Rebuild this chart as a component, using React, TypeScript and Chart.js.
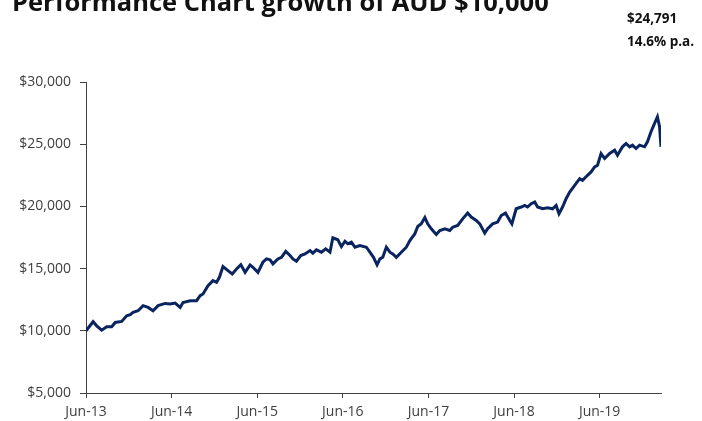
import React, { useEffect, useRef } from "react";
import { Chart, registerables } from "chart.js";

Chart.register(...registerables);

// Months since Jun-2013
const months = [
  0, 1.0, 1.5, 2.2, 2.9, 3.6, 4.1, 5.0, 5.7, 6.2, 6.6, 7.3, 8.0, 8.7, 9.4, 10.1, 11.1, 11.8, 12.5, 13.2,
  13.6, 14.6, 15.5, 16.0, 16.4, 17.1, 17.8, 18.3, 18.7, 19.2, 19.9, 20.5, 21.1, 21.7, 22.3, 23.0, 23.4, 24.1, 24.8, 25.3,
  25.8, 26.2, 26.9, 27.4, 28.0, 28.6, 29.0, 29.5, 30.1, 30.7, 31.4, 31.8, 32.3, 33.0, 33.6, 34.2, 34.6, 35.3, 35.8, 36.3,
  36.7, 37.2, 37.7, 38.4, 39.3, 39.8, 40.3, 40.8, 41.2, 41.6, 42.1, 42.6, 43.0, 43.5, 44.2, 44.9, 45.4, 46.1, 46.5, 47.0,
  47.5, 47.9, 48.4, 49.1, 49.6, 50.3, 51.0, 51.4, 52.1, 52.8, 53.5, 54.0, 54.7, 55.2, 55.9, 56.3, 57.0, 57.7, 58.2, 58.8,
  59.4, 59.7, 60.3, 61.0, 61.5, 61.9, 62.4, 62.9, 63.3, 64.0, 64.7, 65.4, 65.9, 66.3, 66.8, 67.3, 67.8, 68.5, 69.2, 69.6,
  70.3, 70.8, 71.3, 71.7, 72.2, 72.7, 73.4, 74.1, 74.5, 75.2, 75.7, 76.2, 76.6, 77.1, 77.6, 78.3, 78.7, 79.2, 79.7, 80.1,
  80.4, 80.6,
];

// Portfolio value (AUD)
const values = [
  10000, 10730, 10400, 10050, 10320, 10320, 10670, 10750, 11210, 11290, 11480, 11610, 12020, 11880, 11610, 12020, 12200, 12150, 12230, 11880,
  12280, 12420, 12420, 12820, 12960, 13630, 14030, 13900, 14300, 15160, 14840, 14570, 14970, 15320, 14700, 15300, 15110, 14700, 15510, 15780,
  15700, 15380, 15780, 15910, 16390, 16050, 15780, 15590, 16050, 16180, 16450, 16240, 16510, 16320, 16590, 16320, 17480, 17320, 16770, 17200,
  16990, 17120, 16720, 16860, 16720, 16320, 15910, 15300, 15780, 15910, 16720, 16320, 16180, 15910, 16320, 16720, 17260, 17800, 18390, 18600,
  19100, 18600, 18200, 17740, 18060, 18200, 18060, 18330, 18470, 19000, 19460, 19140, 18870, 18600, 17850, 18200, 18600, 18740, 19270, 19460,
  18870, 18600, 19810, 19950, 20080, 19950, 20220, 20350, 19950, 19810, 19890, 19810, 20080, 19410, 19950, 20620, 21160, 21690, 22230, 22100,
  22500, 22770, 23170, 23310, 24250, 23850, 24250, 24520, 24110, 24790, 25060, 24790, 24920, 24650, 24920, 24790, 25190, 26000, 26670, 27200,
  26400, 24791,
];

const xTickLabels = ["Jun-13", "Jun-14", "Jun-15", "Jun-16", "Jun-17", "Jun-18", "Jun-19"];
const titleText = "Performance Chart growth of AUD $10,000";
const finalValueText = "$24,791";
const returnText = "14.6% p.a.";

const FONT = "'Open Sans', 'Liberation Sans', sans-serif";

const textPlugin = {
  id: "textPlugin",
  afterDraw(chart: any) {
    const ctx = chart.ctx as CanvasRenderingContext2D;
    ctx.save();
    ctx.fillStyle = "#111111";
    ctx.textBaseline = "alphabetic";
    ctx.textAlign = "left";
    ctx.font = `bold 24px ${FONT}`;
    const w = ctx.measureText(titleText).width;
    const size = (24 * 537) / w;
    ctx.font = `bold ${size}px ${FONT}`;
    ctx.fillText(titleText, 12, 11);
    ctx.font = `bold 13.5px ${FONT}`;
    ctx.textBaseline = "middle";
    ctx.fillText(finalValueText, 627, 19);
    ctx.fillText(returnText, 627, 42);
    ctx.restore();
  },
};

export default function App() {
  const ref = useRef<HTMLCanvasElement | null>(null);

  useEffect(() => {
    if (!ref.current) return;
    const data = months.map((m, i) => ({ x: m, y: values[i] }));
    const chart = new Chart(ref.current, {
      type: "line",
      data: {
        datasets: [
          {
            data,
            borderColor: "#0a245f",
            borderWidth: 3,
            pointRadius: 0,
            tension: 0,
            fill: false,
          },
        ],
      },
      options: {
        animation: false,
        responsive: false,
        maintainAspectRatio: false,
        layout: { padding: { top: 82, right: 41, left: 0, bottom: 0 } },
        plugins: { legend: { display: false }, tooltip: { enabled: false }, title: { display: false } },
        scales: {
          x: {
            type: "linear",
            min: 0,
            max: 80.6,
            afterFit: (s: any) => {
              s.height = 28;
            },
            border: { display: true, color: "#404040", width: 1 },
            grid: { drawOnChartArea: false, drawTicks: true, tickLength: 5, color: "#404040" },
            ticks: {
              stepSize: 12,
              includeBounds: false,
              autoSkip: false,
              maxRotation: 0,
              padding: 6,
              color: "#404040",
              font: { family: FONT, size: 14 },
              callback: (v: any) => {
                const idx = Math.round(Number(v) / 12);
                return Number(v) % 12 === 0 ? xTickLabels[idx] ?? "" : "";
              },
            },
          },
          y: {
            min: 5000,
            max: 30000,
            afterFit: (s: any) => {
              s.width = 86;
            },
            border: { display: true, color: "#404040", width: 1 },
            grid: { drawOnChartArea: false, drawTicks: true, tickLength: 6, color: "#404040" },
            ticks: {
              stepSize: 5000,
              padding: 9,
              color: "#404040",
              font: { family: FONT, size: 14 },
              callback: (v: any) => "$" + Number(v).toLocaleString("en-US"),
            },
          },
        },
      },
      plugins: [textPlugin],
    });
    return () => chart.destroy();
  }, []);

  return (
    <div style={{ position: "absolute", left: 0, top: 0, width: 702, height: 421, background: "#ffffff" }}>
      <canvas ref={ref} width={702} height={421} style={{ width: 702, height: 421, display: "block" }} />
    </div>
  );
}
